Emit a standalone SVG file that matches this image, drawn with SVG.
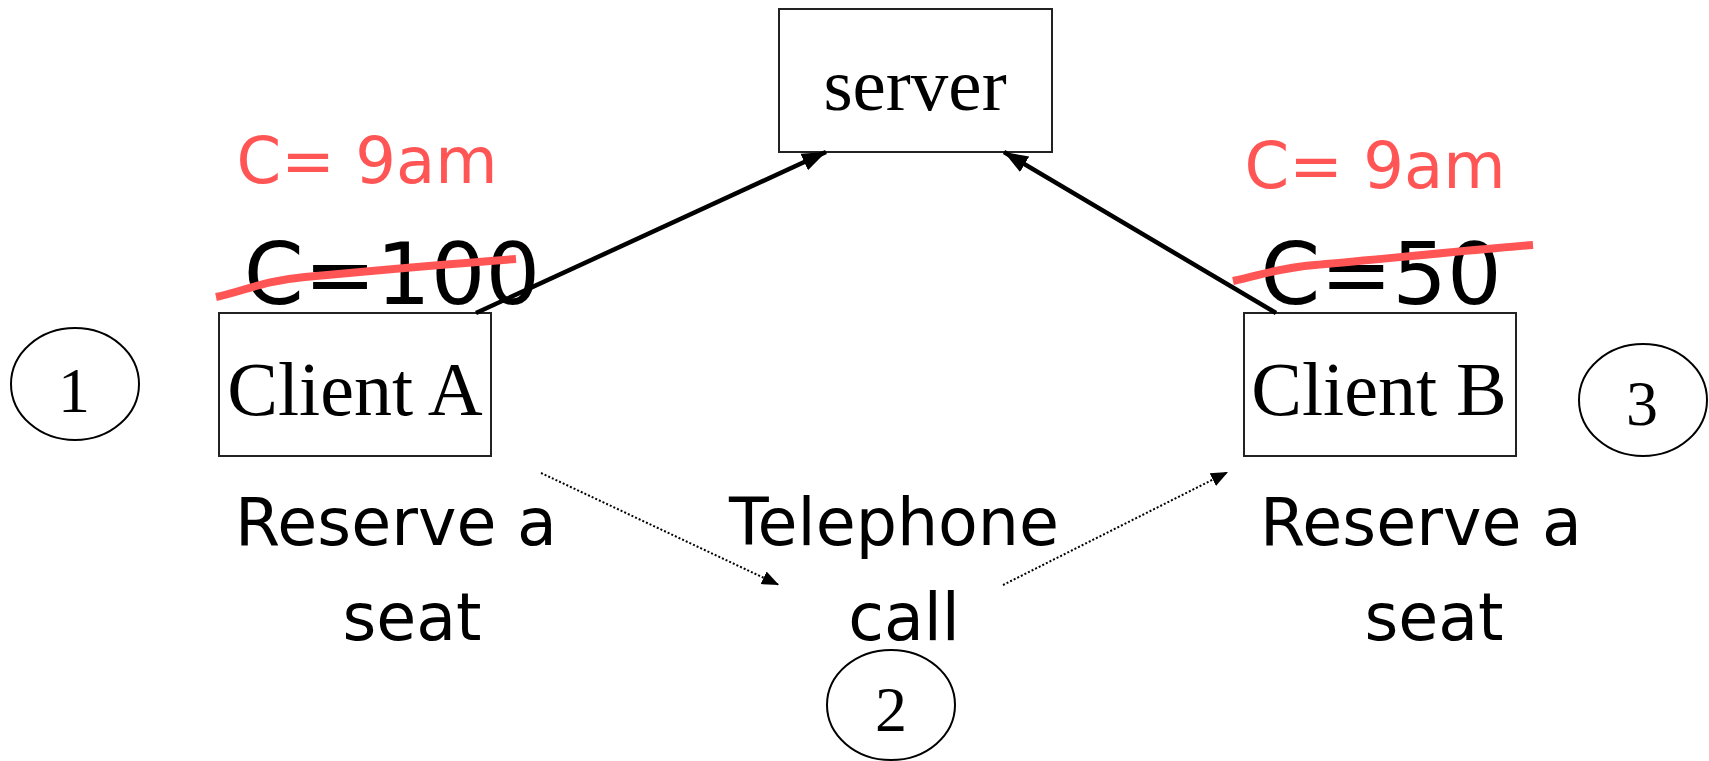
<svg xmlns="http://www.w3.org/2000/svg" width="1709" height="761" viewBox="0 0 1709 761">
  <style>
    .box { fill: #ffffff; stroke: #222222; stroke-width: 2; }
    .step { fill: none; stroke: #000000; stroke-width: 2; }
    .serif { font-family: "Liberation Serif", "Times New Roman", serif; fill: #000000; text-anchor: middle; }
    .sans { font-family: "DejaVu Sans", "Liberation Sans", sans-serif; fill: #000000; text-anchor: middle; }
    .note { fill: #ff5555; }
    .strike { fill: none; stroke: #ff5555; stroke-width: 8; stroke-linecap: butt; }
    .solid { fill: none; stroke: #000000; stroke-width: 4.5; }
    .dotted { fill: none; stroke: #000000; stroke-width: 2; stroke-dasharray: 2 2; }
  </style>
  <defs>
    <marker id="headBig" markerUnits="userSpaceOnUse" markerWidth="26" markerHeight="20" refX="24" refY="10" orient="auto">
      <path d="M0,1 L24,10 L0,19 Z" fill="#000000"/>
    </marker>
    <marker id="headSmall" markerUnits="userSpaceOnUse" markerWidth="18" markerHeight="16" refX="17" refY="8" orient="auto">
      <path d="M0,1 L17,8 L0,15 Z" fill="#000000"/>
    </marker>
  </defs>

  <!-- server -->
  <g id="server">
    <rect class="box" x="779" y="9" width="273" height="143"/>
    <text class="serif" x="915" y="110" font-size="75">server</text>
  </g>

  <!-- client A with its counter values -->
  <g id="clientA">
    <rect class="box" x="219" y="313" width="272" height="143"/>
    <text class="serif" x="355" y="415" font-size="76">Client A</text>
  </g>
  <g id="clientA-values">
    <text class="sans note" x="367" y="183" font-size="64">C= 9am</text>
    <text class="sans" x="392" y="304" font-size="86">C=100</text>
    <path class="strike" d="M216,297 C245,291 262,281 305,277 S460,263 516,259"/>
  </g>

  <!-- client B with its counter values -->
  <g id="clientB">
    <rect class="box" x="1244" y="313" width="272" height="143"/>
    <text class="serif" x="1379" y="415" font-size="76">Client B</text>
  </g>
  <g id="clientB-values">
    <text class="sans note" x="1375" y="188" font-size="64">C= 9am</text>
    <text class="sans" x="1381" y="304" font-size="86">C=50</text>
    <path class="strike" d="M1233,281 C1262,275 1278,268 1315,265 S1470,250 1533,245"/>
  </g>

  <!-- step markers -->
  <g id="step1">
    <ellipse class="step" cx="75" cy="384" rx="64" ry="56"/>
    <text class="serif" x="74" y="412" font-size="64">1</text>
  </g>
  <g id="step2">
    <ellipse class="step" cx="891" cy="705" rx="64" ry="55"/>
    <text class="serif" x="891" y="731" font-size="64">2</text>
  </g>
  <g id="step3">
    <ellipse class="step" cx="1643" cy="400" rx="64" ry="56"/>
    <text class="serif" x="1642" y="425" font-size="64">3</text>
  </g>

  <!-- actions -->
  <g id="reserveA">
    <text class="sans" x="396" y="545" font-size="65">Reserve a</text>
    <text class="sans" x="412" y="640" font-size="65">seat</text>
  </g>
  <g id="telephone">
    <text class="sans" x="894" y="545" font-size="65">Telephone</text>
    <text class="sans" x="904" y="640" font-size="65">call</text>
  </g>
  <g id="reserveB">
    <text class="sans" x="1421" y="545" font-size="65">Reserve a</text>
    <text class="sans" x="1434" y="640" font-size="65">seat</text>
  </g>

  <!-- connectors -->
  <g id="connectors">
    <line class="solid" x1="476" y1="313" x2="826" y2="152" marker-end="url(#headBig)"/>
    <line class="solid" x1="1276" y1="313" x2="1004" y2="152" marker-end="url(#headBig)"/>
    <line class="dotted" x1="541" y1="473" x2="779" y2="585" marker-end="url(#headSmall)"/>
    <line class="dotted" x1="1003" y1="585" x2="1228" y2="472" marker-end="url(#headSmall)"/>
  </g>
</svg>
